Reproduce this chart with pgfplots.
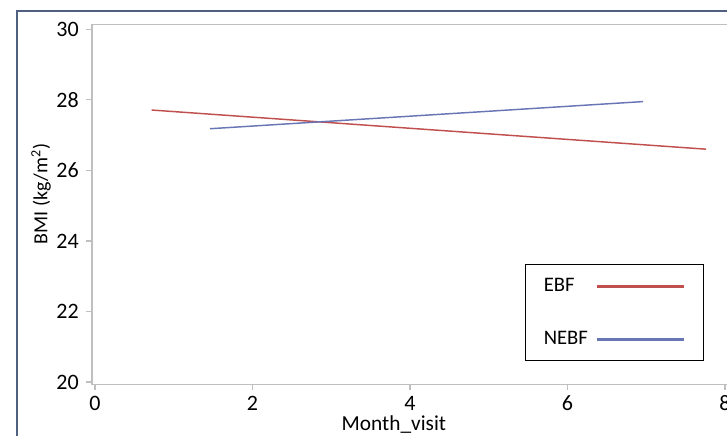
\documentclass[border=0pt]{standalone}
\usepackage{fontspec}
\setmainfont{Carlito}
\usepackage{pgfplots}
\pgfplotsset{compat=1.18}
\definecolor{ebf}{RGB}{192,80,77}
\definecolor{nebf}{RGB}{105,118,182}
\definecolor{axgray}{RGB}{191,191,191}
\definecolor{framec}{RGB}{80,96,128}
\begin{document}
\begin{tikzpicture}
\path[use as bounding box] (0,0) rectangle (545.25pt,326.25pt);
\draw[framec, line width=1.5pt] (12.75pt,-10pt) rectangle (560pt,318pt);
\begin{axis}[
 at={(69pt,37.9pt)}, anchor=south west, scale only axis,
 width=477.75pt, height=270pt,
 xmin=-0.038, xmax=8.05, ymin=19.93, ymax=30.136,
 xtick={0,2,4,6,8}, ytick={20,22,24,26,28,30},
 axis line style={axgray, line width=0.9pt},
 tick style={axgray, line width=0.9pt},
 tick align=outside, major tick length=4.5pt,
 xtick pos=bottom, ytick pos=left,
 /pgf/number format/assume math mode=true,
 tick label style={font=\fontsize{16.5}{19}\selectfont, text=black},
 xticklabel style={anchor=base, yshift=-14.8pt},
 yticklabel style={anchor=east, xshift=-1.9pt},
 xlabel={Month\_visit}, ylabel={BMI (kg/m\textsuperscript{2})},
 xlabel style={font=\fontsize{16}{19}\selectfont, at={(axis description cs:0.474,0)}, anchor=base, yshift=-34.3pt},
 ylabel style={font=\fontsize{15}{18}\selectfont, at={([xshift=-38.25pt]axis description cs:0,0.529)}, anchor=center},
 legend plot pos=right, legend cell align=left,
 legend style={at={(axis description cs:0.9608,0.3347)}, anchor=north east, draw=black, line width=0.6pt,
   font=\fontsize{15.5}{18}\selectfont, inner xsep=13.5pt, inner ysep=10.5pt, row sep=28.5pt, column sep=6pt,
   nodes={inner sep=0pt}},
 legend image code/.code={\draw[#1, line width=2.25pt] (0pt,0pt) -- (65pt,0pt);},
]
\addplot[ebf, line width=1.1pt] coordinates {(0.72,27.71) (7.76,26.60)};
\addplot[nebf, line width=1.1pt] coordinates {(1.46,27.18) (6.96,27.95)};
\legend{EBF,NEBF}
\end{axis}
\end{tikzpicture}
\end{document}
